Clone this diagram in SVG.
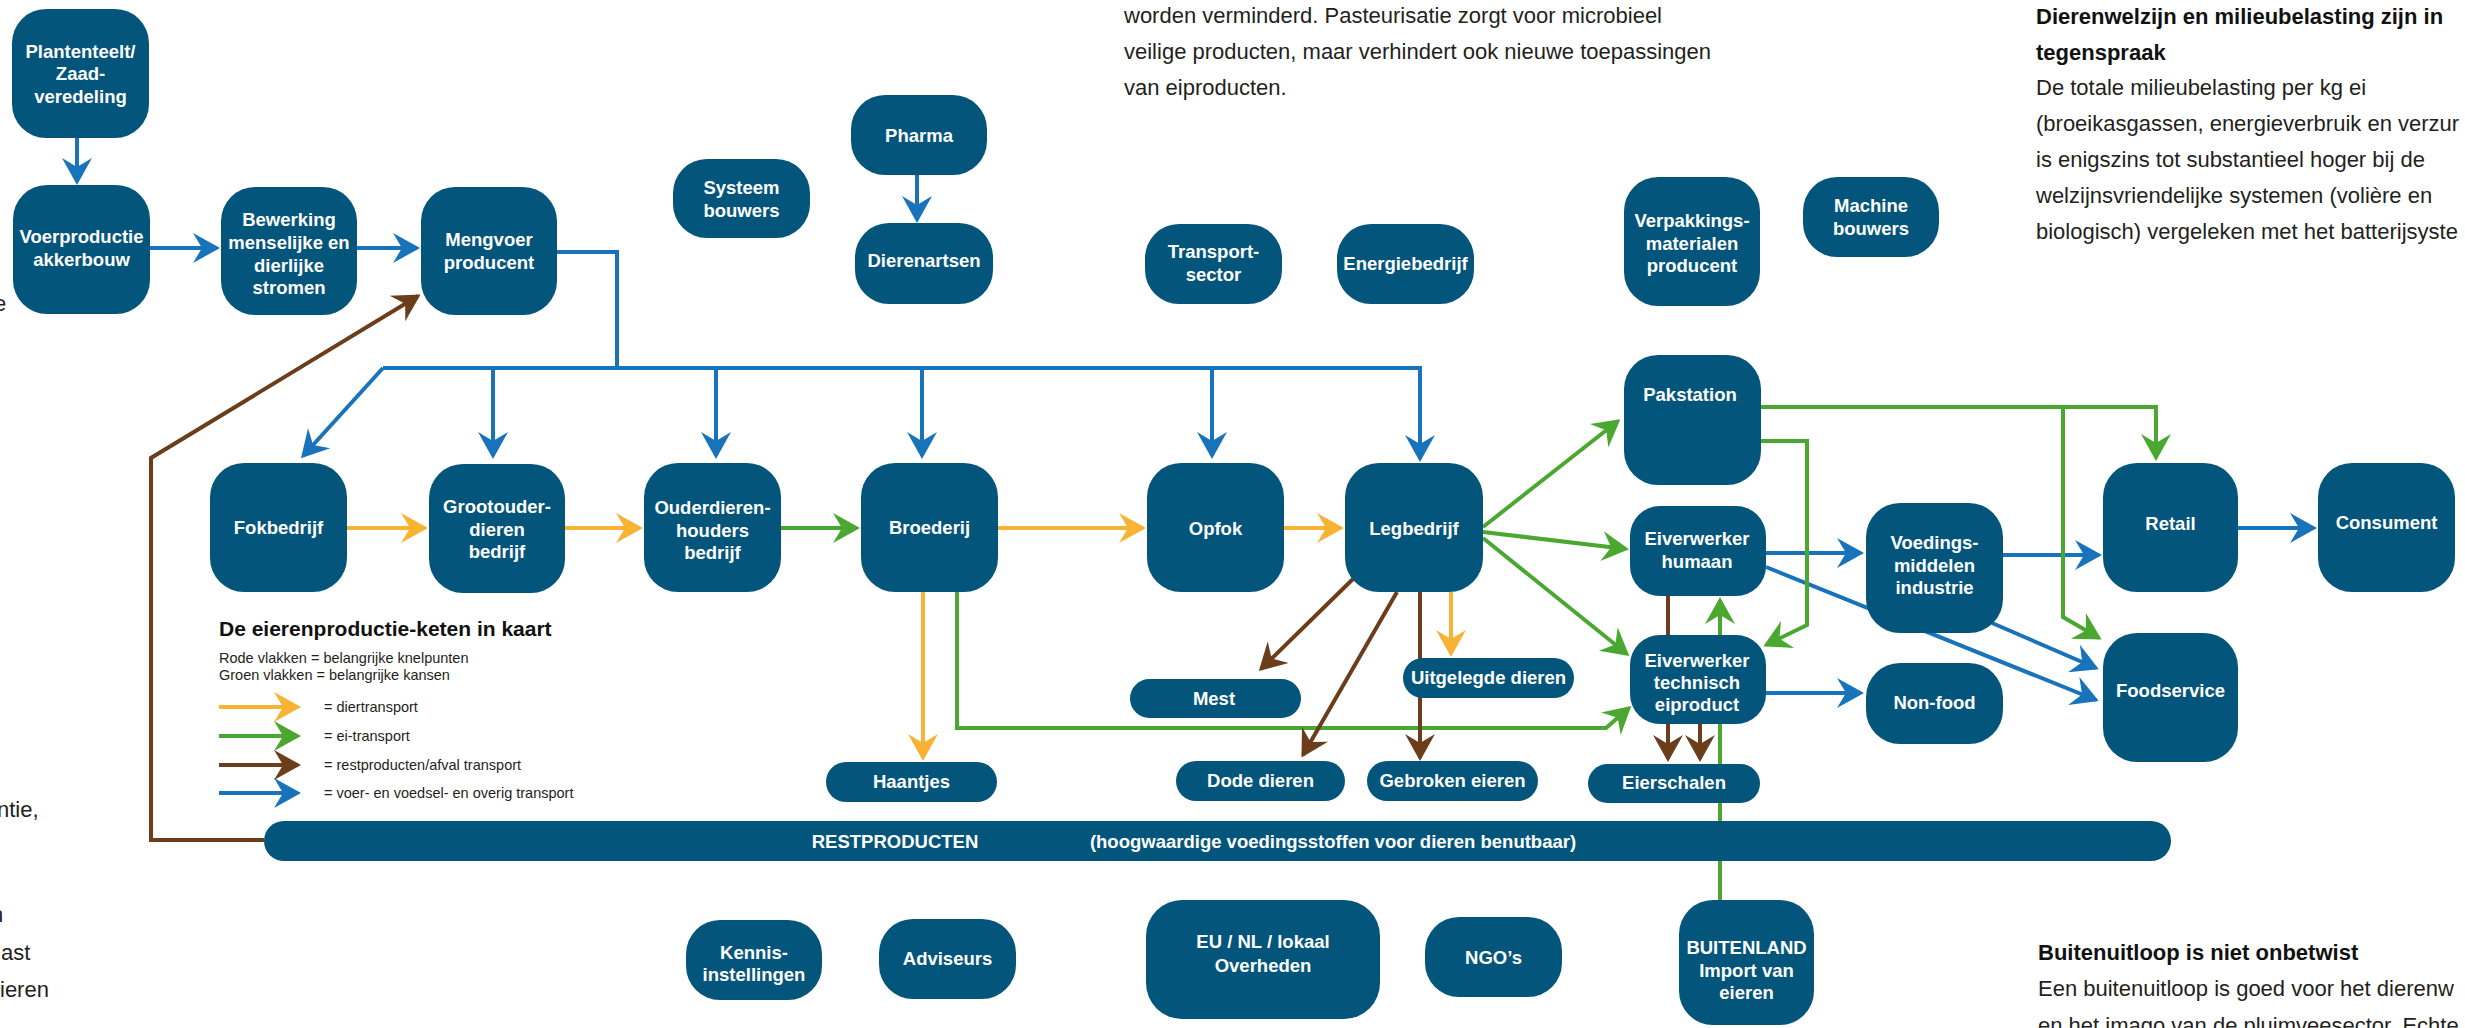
<svg xmlns="http://www.w3.org/2000/svg" width="2465" height="1028" viewBox="0 0 2465 1028">
<style>
.n{fill:#03557b}
.t{font-family:"Liberation Sans",Arial,sans-serif;font-weight:bold;font-size:18.5px;fill:#ffffff;text-anchor:middle}
.b{font-family:"Liberation Sans",Arial,sans-serif;font-size:22px;fill:#231f20}
.bb{font-family:"Liberation Sans",Arial,sans-serif;font-size:22px;font-weight:bold;fill:#111111}
.lg{font-family:"Liberation Sans",Arial,sans-serif;font-size:14.5px;fill:#231f20}
.lt{font-family:"Liberation Sans",Arial,sans-serif;font-size:21px;font-weight:bold;fill:#111111}
.c{fill:none;stroke-width:4;stroke-linejoin:miter}
.bl{stroke:#1873bb}
.gr{stroke:#4aa72f}
.or{stroke:#f8b334}
.br{stroke:#6b3d1a}
</style>
<defs>
<marker id="mb" markerUnits="userSpaceOnUse" markerWidth="34" markerHeight="34" viewBox="-30 -17 34 34" refX="0" refY="0" orient="auto"><path d="M3,0 L-24,-15 L-15,0 L-24,15 Z" fill="#1873bb"/></marker>
<marker id="mg" markerUnits="userSpaceOnUse" markerWidth="34" markerHeight="34" viewBox="-30 -17 34 34" refX="0" refY="0" orient="auto"><path d="M3,0 L-24,-15 L-15,0 L-24,15 Z" fill="#4aa72f"/></marker>
<marker id="mo" markerUnits="userSpaceOnUse" markerWidth="34" markerHeight="34" viewBox="-30 -17 34 34" refX="0" refY="0" orient="auto"><path d="M3,0 L-24,-15 L-15,0 L-24,15 Z" fill="#f8b334"/></marker>
<marker id="mr" markerUnits="userSpaceOnUse" markerWidth="34" markerHeight="34" viewBox="-30 -17 34 34" refX="0" refY="0" orient="auto"><path d="M3,0 L-24,-15 L-15,0 L-24,15 Z" fill="#6b3d1a"/></marker>
</defs>
<rect width="2465" height="1028" fill="#ffffff"/>

<g id="body-text">
<text class="b" x="1124" y="23">worden verminderd. Pasteurisatie zorgt voor microbieel</text>
<text class="b" x="1124" y="59">veilige producten, maar verhindert ook nieuwe toepassingen</text>
<text class="b" x="1124" y="95">van eiproducten.</text>
<text class="bb" x="2036" y="24">Dierenwelzijn en milieubelasting zijn in</text>
<text class="bb" x="2036" y="60">tegenspraak</text>
<text class="b" x="2036" y="95">De totale milieubelasting per kg ei</text>
<text class="b" x="2036" y="131">(broeikasgassen, energieverbruik en verzur</text>
<text class="b" x="2036" y="167">is enigszins tot substantieel hoger bij de</text>
<text class="b" x="2036" y="203">welzijnsvriendelijke systemen (volière en</text>
<text class="b" x="2036" y="239">biologisch) vergeleken met het batterijsyste</text>
<text class="bb" x="2038" y="960">Buitenuitloop is niet onbetwist</text>
<text class="b" x="2038" y="996">Een buitenuitloop is goed voor het dierenw</text>
<text class="b" x="2038" y="1033">en het imago van de pluimveesector. Echte</text>
<text class="b" x="-6" y="311">e</text>
<text class="b" x="-3" y="817">ntie,</text>
<text class="b" x="-9" y="922">n</text>
<text class="b" x="1" y="960">ast</text>
<text class="b" x="0" y="997">ieren</text>
</g>

<g id="legend">
<text class="lt" x="219" y="636">De eierenproductie-keten in kaart</text>
<text class="lg" x="219" y="663">Rode vlakken = belangrijke knelpunten</text>
<text class="lg" x="219" y="680">Groen vlakken = belangrijke kansen</text>
<path class="c or" d="M219,707 H298" marker-end="url(#mo)"/>
<path class="c gr" d="M219,736 H298" marker-end="url(#mg)"/>
<path class="c br" d="M219,765 H298" marker-end="url(#mr)"/>
<path class="c bl" d="M219,793 H298" marker-end="url(#mb)"/>
<text class="lg" x="324" y="712">= diertransport</text>
<text class="lg" x="324" y="741">= ei-transport</text>
<text class="lg" x="324" y="770">= restproducten/afval transport</text>
<text class="lg" x="324" y="798">= voer- en voedsel- en overig transport</text>
</g>

<g id="connectors">
<!-- blue -->
<path class="c bl" d="M77,138 V182" marker-end="url(#mb)"/>
<path class="c bl" d="M150,248 H217" marker-end="url(#mb)"/>
<path class="c bl" d="M357,248 H417" marker-end="url(#mb)"/>
<path class="c bl" d="M557,252 H617 V368"/>
<path class="c bl" d="M383,368 H1420 V459" marker-end="url(#mb)"/>
<path class="c bl" d="M383,368 L303,456" marker-end="url(#mb)"/>
<path class="c bl" d="M493,368 V456" marker-end="url(#mb)"/>
<path class="c bl" d="M716,368 V456" marker-end="url(#mb)"/>
<path class="c bl" d="M922,368 V456" marker-end="url(#mb)"/>
<path class="c bl" d="M1212,368 V456" marker-end="url(#mb)"/>
<path class="c bl" d="M917,175 V220" marker-end="url(#mb)"/>
<path class="c bl" d="M1766,553 H1861" marker-end="url(#mb)"/>
<path class="c bl" d="M1766,567 L2096,700" marker-end="url(#mb)"/>
<path class="c bl" d="M2003,555 H2099" marker-end="url(#mb)"/>
<path class="c bl" d="M1992,623 L2096,668" marker-end="url(#mb)"/>
<path class="c bl" d="M2238,528 H2314" marker-end="url(#mb)"/>
<path class="c bl" d="M1766,693 H1861" marker-end="url(#mb)"/>
<!-- orange -->
<path class="c or" d="M347,528 H425" marker-end="url(#mo)"/>
<path class="c or" d="M565,528 H640" marker-end="url(#mo)"/>
<path class="c or" d="M998,528 H1143" marker-end="url(#mo)"/>
<path class="c or" d="M1284,528 H1341" marker-end="url(#mo)"/>
<path class="c or" d="M923,592 V758" marker-end="url(#mo)"/>
<path class="c or" d="M1451,592 V654" marker-end="url(#mo)"/>
<!-- green -->
<path class="c gr" d="M781,528 H857" marker-end="url(#mg)"/>
<path class="c gr" d="M957,592 V728 H1606 L1629,708" marker-end="url(#mg)"/>
<path class="c gr" d="M1483,527 L1618,421" marker-end="url(#mg)"/>
<path class="c gr" d="M1483,532 L1626,549" marker-end="url(#mg)"/>
<path class="c gr" d="M1483,538 L1627,654" marker-end="url(#mg)"/>
<path class="c gr" d="M1761,407 H2156 V458" marker-end="url(#mg)"/>
<path class="c gr" d="M2063,407 V617 L2099,638" marker-end="url(#mg)"/>
<path class="c gr" d="M1761,441 H1807 V625 L1766,645" marker-end="url(#mg)"/>
<path class="c gr" d="M1720,900 V600" marker-end="url(#mg)"/>
<!-- brown -->
<path class="c br" d="M1354,578 L1261,669" marker-end="url(#mr)"/>
<path class="c br" d="M1397,592 L1303,755" marker-end="url(#mr)"/>
<path class="c br" d="M1420,592 V758" marker-end="url(#mr)"/>
<path class="c br" d="M1668,596 V759" marker-end="url(#mr)"/>
<path class="c br" d="M1700,724 V759" marker-end="url(#mr)"/>
<path class="c br" d="M264,840 H151 V458 L418,296" marker-end="url(#mr)"/>
</g>

<g id="nodes">
<g id="n-plantenteelt"><rect class="n" x="12" y="9" width="137" height="129" rx="34"/><text class="t"><tspan x="80.5" y="57.5">Plantenteelt/</tspan><tspan x="80.5" y="80">Zaad-</tspan><tspan x="80.5" y="102.5">veredeling</tspan></text></g>
<g id="n-voerproductie"><rect class="n" x="13" y="185" width="137" height="129" rx="34"/><text class="t"><tspan x="81.5" y="243">Voerproductie</tspan><tspan x="81.5" y="265.5">akkerbouw</tspan></text></g>
<g id="n-bewerking"><rect class="n" x="221" y="187" width="136" height="128" rx="34"/><text class="t"><tspan x="289" y="226">Bewerking</tspan><tspan x="289" y="249">menselijke en</tspan><tspan x="289" y="271.5">dierlijke</tspan><tspan x="289" y="294">stromen</tspan></text></g>
<g id="n-mengvoer"><rect class="n" x="421" y="187" width="136" height="128" rx="34"/><text class="t"><tspan x="489" y="246">Mengvoer</tspan><tspan x="489" y="268.5">producent</tspan></text></g>
<g id="n-systeem"><rect class="n" x="673" y="159" width="137" height="79" rx="34"/><text class="t"><tspan x="741.5" y="194">Systeem</tspan><tspan x="741.5" y="216.5">bouwers</tspan></text></g>
<g id="n-pharma"><rect class="n" x="851" y="95" width="136" height="80" rx="34"/><text class="t" x="919" y="141.5">Pharma</text></g>
<g id="n-dierenartsen"><rect class="n" x="855" y="223" width="138" height="81" rx="34"/><text class="t" x="924" y="267">Dierenartsen</text></g>
<g id="n-transport"><rect class="n" x="1145" y="224" width="137" height="80" rx="34"/><text class="t"><tspan x="1213.5" y="258">Transport-</tspan><tspan x="1213.5" y="280.5">sector</tspan></text></g>
<g id="n-energie"><rect class="n" x="1337" y="224" width="137" height="80" rx="34"/><text class="t" x="1405.5" y="270">Energiebedrijf</text></g>
<g id="n-verpakking"><rect class="n" x="1624" y="177" width="136" height="129" rx="34"/><text class="t"><tspan x="1692" y="227">Verpakkings-</tspan><tspan x="1692" y="249.5">materialen</tspan><tspan x="1692" y="272">producent</tspan></text></g>
<g id="n-machine"><rect class="n" x="1803" y="177" width="136" height="80" rx="34"/><text class="t"><tspan x="1871" y="212">Machine</tspan><tspan x="1871" y="234.5">bouwers</tspan></text></g>
<g id="n-fokbedrijf"><rect class="n" x="210" y="463" width="137" height="129" rx="34"/><text class="t" x="278.5" y="534">Fokbedrijf</text></g>
<g id="n-grootouder"><rect class="n" x="429" y="464" width="136" height="129" rx="34"/><text class="t"><tspan x="497" y="513">Grootouder-</tspan><tspan x="497" y="535.5">dieren</tspan><tspan x="497" y="558">bedrijf</tspan></text></g>
<g id="n-ouderdieren"><rect class="n" x="644" y="463" width="137" height="129" rx="34"/><text class="t"><tspan x="712.5" y="514">Ouderdieren-</tspan><tspan x="712.5" y="536.5">houders</tspan><tspan x="712.5" y="559">bedrijf</tspan></text></g>
<g id="n-broederij"><rect class="n" x="861" y="463" width="137" height="129" rx="34"/><text class="t" x="929.5" y="534">Broederij</text></g>
<g id="n-opfok"><rect class="n" x="1147" y="463" width="137" height="129" rx="34"/><text class="t" x="1215.5" y="535">Opfok</text></g>
<g id="n-legbedrijf"><rect class="n" x="1345" y="463" width="138" height="129" rx="34"/><text class="t" x="1414" y="535">Legbedrijf</text></g>
<g id="n-pakstation"><rect class="n" x="1624" y="355" width="137" height="130" rx="34"/><text class="t" x="1690" y="401">Pakstation</text></g>
<g id="n-humaan"><rect class="n" x="1630" y="506" width="136" height="90" rx="30"/><text class="t"><tspan x="1697" y="545">Eiverwerker</tspan><tspan x="1697" y="567.5">humaan</tspan></text></g>
<g id="n-technisch"><rect class="n" x="1630" y="635" width="136" height="89" rx="30"/><text class="t"><tspan x="1697" y="667">Eiverwerker</tspan><tspan x="1697" y="689">technisch</tspan><tspan x="1697" y="711">eiproduct</tspan></text></g>
<g id="n-voedings"><rect class="n" x="1866" y="503" width="137" height="130" rx="34"/><text class="t"><tspan x="1934.5" y="549">Voedings-</tspan><tspan x="1934.5" y="571.5">middelen</tspan><tspan x="1934.5" y="594">industrie</tspan></text></g>
<g id="n-retail"><rect class="n" x="2103" y="463" width="135" height="129" rx="34"/><text class="t" x="2170.5" y="530">Retail</text></g>
<g id="n-consument"><rect class="n" x="2318" y="463" width="137" height="129" rx="34"/><text class="t" x="2386.5" y="529">Consument</text></g>
<g id="n-foodservice"><rect class="n" x="2103" y="633" width="135" height="129" rx="34"/><text class="t" x="2170.5" y="697">Foodservice</text></g>
<g id="n-nonfood"><rect class="n" x="1866" y="663" width="137" height="81" rx="34"/><text class="t" x="1934.5" y="709">Non-food</text></g>
<g id="n-mest"><rect class="n" x="1130" y="679" width="171" height="39" rx="19.5"/><text class="t" x="1214" y="705">Mest</text></g>
<g id="n-uitgelegde"><rect class="n" x="1403" y="658" width="171" height="40" rx="20"/><text class="t" x="1488.5" y="684">Uitgelegde dieren</text></g>
<g id="n-haantjes"><rect class="n" x="826" y="762" width="171" height="40" rx="20"/><text class="t" x="911.5" y="788">Haantjes</text></g>
<g id="n-dode"><rect class="n" x="1176" y="761" width="169" height="40" rx="20"/><text class="t" x="1260.5" y="787">Dode dieren</text></g>
<g id="n-gebroken"><rect class="n" x="1367" y="761" width="171" height="40" rx="20"/><text class="t" x="1452.5" y="787">Gebroken eieren</text></g>
<g id="n-eierschalen"><rect class="n" x="1588" y="764" width="172" height="39" rx="19.5"/><text class="t" x="1674" y="789">Eierschalen</text></g>
<g id="n-restproducten"><rect class="n" x="264" y="821" width="1907" height="40" rx="20"/><text class="t" x="895" y="848">RESTPRODUCTEN</text><text class="t" x="1333" y="848">(hoogwaardige voedingsstoffen voor dieren benutbaar)</text></g>
<g id="n-kennis"><rect class="n" x="686" y="920" width="136" height="80" rx="34"/><text class="t"><tspan x="754" y="959">Kennis-</tspan><tspan x="754" y="981">instellingen</tspan></text></g>
<g id="n-adviseurs"><rect class="n" x="879" y="919" width="137" height="80" rx="34"/><text class="t" x="947.5" y="965">Adviseurs</text></g>
<g id="n-eu"><rect class="n" x="1146" y="900" width="234" height="119" rx="36"/><text class="t"><tspan x="1263" y="948">EU / NL / lokaal</tspan><tspan x="1263" y="972">Overheden</tspan></text></g>
<g id="n-ngos"><rect class="n" x="1425" y="917" width="137" height="80" rx="34"/><text class="t" x="1493.5" y="964">NGO’s</text></g>
<g id="n-buitenland"><rect class="n" x="1679" y="900" width="135" height="125" rx="34"/><text class="t"><tspan x="1746.5" y="954">BUITENLAND</tspan><tspan x="1746.5" y="977">Import van</tspan><tspan x="1746.5" y="999">eieren</tspan></text></g>
</g>
</svg>
